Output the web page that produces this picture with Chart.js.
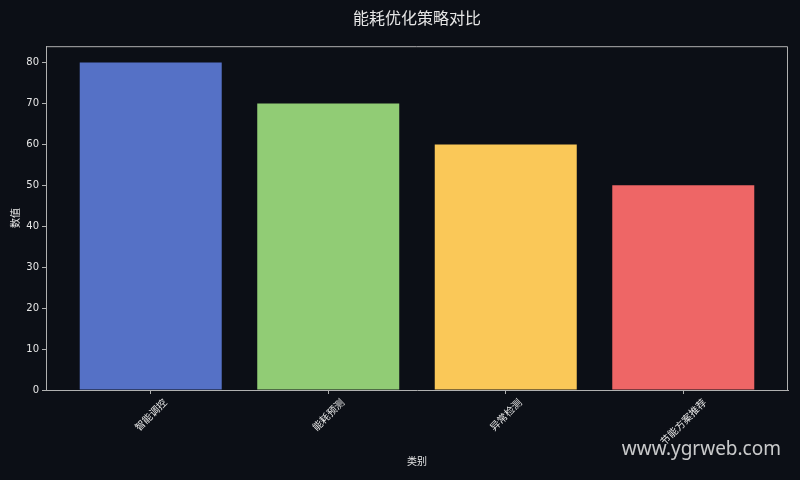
<!DOCTYPE html>
<html>
<head>
<meta charset="utf-8">
<script src="https://cdn.jsdelivr.net/npm/chart.js@4.4.1/dist/chart.umd.min.js"></script>
<style>
  html, body { margin: 0; padding: 0; background: #0c0f16; }
  #wrap { width: 800px; height: 480px; }
</style>
</head>
<body>
<div id="wrap"><canvas id="barChart"></canvas></div>
<script>
// 数据
const categories = ["智能调控", "能耗预测", "异常检测", "节能方案推荐"];
const values = [80, 70, 60, 50];
const yTicks = [0, 10, 20, 30, 40, 50, 60, 70, 80];
const barColors = ["#5571c6", "#91cc75", "#fac858", "#ee6666"];

const textColor = "#e6e6e6";
const axisColor = "#b0b0b0";

// 画布背景、上/右边框、旋转的类别标签、水印
const decorPlugin = {
    id: "decor",
    beforeDraw(chart) {
        const ctx = chart.ctx;
        ctx.save();
        ctx.fillStyle = "#0c0f16";
        ctx.fillRect(0, 0, chart.width, chart.height);
        ctx.restore();
    },
    afterDraw(chart) {
        const ctx = chart.ctx;
        const area = chart.chartArea;
        const xScale = chart.scales.x;
        ctx.save();
        ctx.strokeStyle = axisColor;
        ctx.lineWidth = 1;
        ctx.beginPath();
        ctx.moveTo(area.left, area.top + 0.5);
        ctx.lineTo(area.right - 0.5, area.top + 0.5);
        ctx.lineTo(area.right - 0.5, area.bottom);
        ctx.stroke();

        // 类别标签（45度旋转，居中于刻度）
        const fs = 10;
        ctx.font = fs + "px 'Noto Sans CJK SC'";
        ctx.fillStyle = textColor;
        ctx.textAlign = "center";
        ctx.textBaseline = "middle";
        categories.forEach((label, i) => {
            const x = xScale.getPixelForValue(i);
            const w = ctx.measureText(label).width;
            const h = (w + fs) * Math.SQRT1_2;
            const y = area.bottom + 7 + h / 2;
            ctx.save();
            ctx.translate(x, y);
            ctx.rotate(-Math.PI / 4);
            ctx.fillText(label, 0, 0);
            ctx.restore();
        });

        // 水印
        ctx.font = "19px 'Noto Sans'";
        ctx.fillStyle = "rgba(235,235,235,0.85)";
        ctx.textAlign = "right";
        ctx.textBaseline = "alphabetic";
        ctx.fillText("www.ygrweb.com", 781, 455);
        ctx.restore();
    },
};

const ctx = document.getElementById("barChart").getContext("2d");
new Chart(ctx, {
    type: "bar",
    data: {
        datasets: [
            {
                label: "数值",
                data: values.map((v, i) => ({ x: i, y: v })),
                backgroundColor: barColors,
                borderWidth: 0,
                barPercentage: 0.8,
                categoryPercentage: 1.0,
            },
        ],
    },
    plugins: [decorPlugin],
    options: {
        responsive: true,
        maintainAspectRatio: false,
        animation: false,
        layout: { padding: { left: 0, right: 12, top: 0, bottom: 0 } },
        plugins: {
            legend: { display: false },
            tooltip: { enabled: false },
            title: {
                display: true,
                fullSize: false,
                text: "能耗优化策略对比",
                color: textColor,
                font: { family: "'Noto Sans CJK SC'", size: 16, weight: "normal" },
                padding: { top: 8, bottom: 19 },
            },
        },
        scales: {
            x: {
                type: "linear",
                min: -0.59,
                max: 3.59,
                offset: false,
                afterBuildTicks: (scale) => {
                    scale.ticks = categories.map((c, i) => ({ value: i }));
                },
                afterFit: (scale) => {
                    scale.height = 90;
                },
                ticks: { display: false },
                grid: {
                    offset: false,
                    drawOnChartArea: false,
                    drawTicks: true,
                    tickLength: 4,
                    color: axisColor,
                },
                border: { color: axisColor, width: 1 },
                title: {
                    display: true,
                    text: "类别",
                    color: textColor,
                    font: { family: "'Noto Sans CJK SC'", size: 10 },
                    padding: { top: 0, bottom: 13 },
                },
            },
            y: {
                min: 0,
                max: 84,
                afterBuildTicks: (scale) => {
                    scale.ticks = yTicks.map((v) => ({ value: v }));
                },
                afterFit: (scale) => {
                    scale.width = 46;
                },
                ticks: {
                    color: textColor,
                    padding: 3,
                    font: { family: "'DejaVu Sans'", size: 10 },
                },
                grid: {
                    drawOnChartArea: false,
                    drawTicks: true,
                    tickLength: 4,
                    color: axisColor,
                },
                border: { color: axisColor, width: 1 },
                title: {
                    display: true,
                    text: "数值",
                    color: textColor,
                    font: { family: "'Noto Sans CJK SC'", size: 10 },
                    padding: { top: 9, bottom: 0 },
                },
            },
        },
    },
});
</script>
</body>
</html>
